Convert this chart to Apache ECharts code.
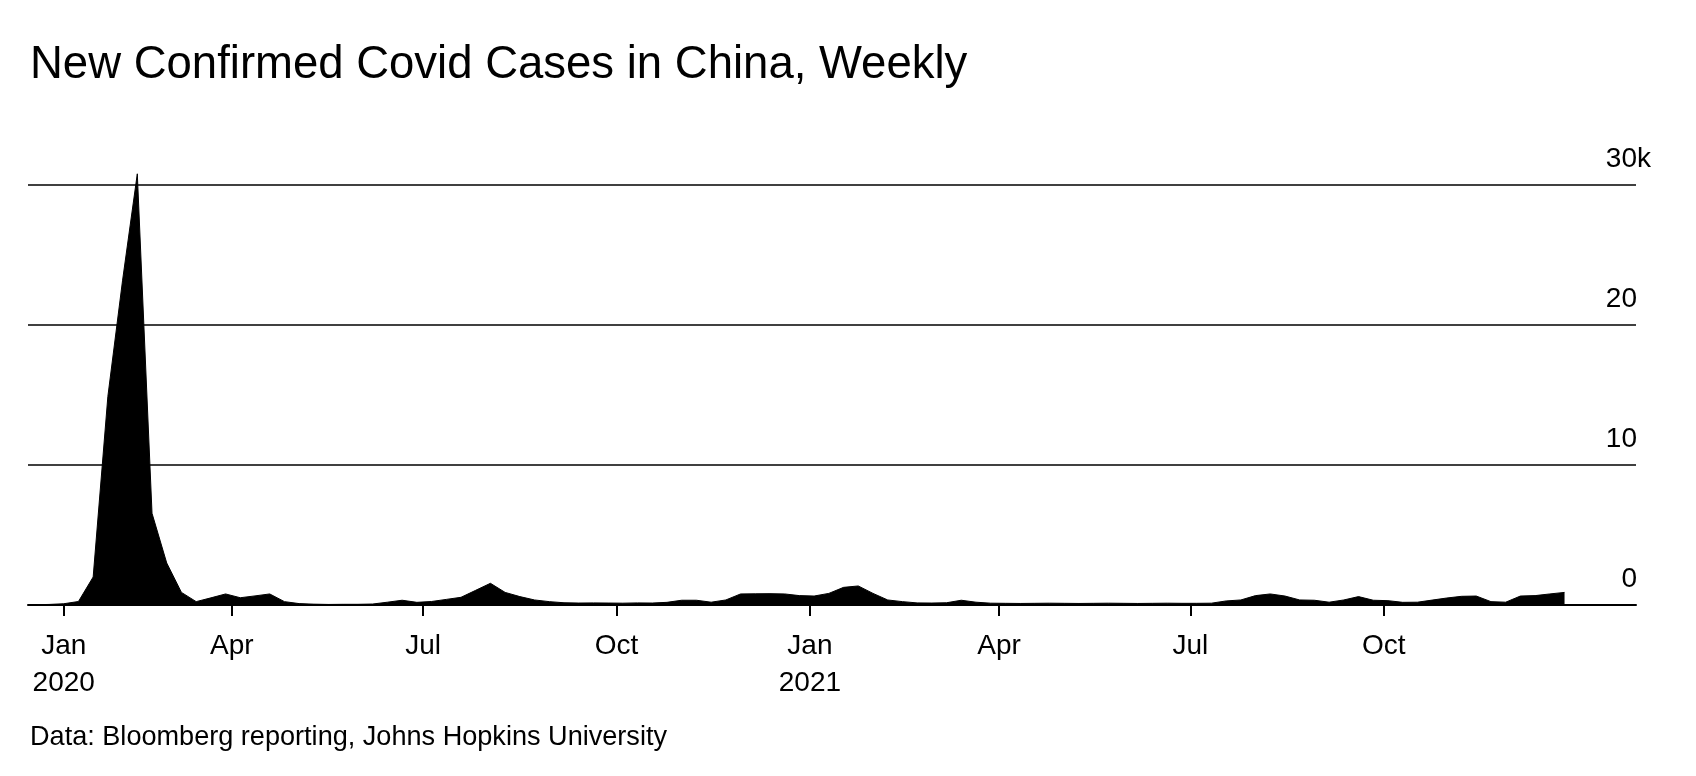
<!DOCTYPE html>
<html>
<head>
<meta charset="utf-8">
<script src="https://cdn.jsdelivr.net/npm/echarts@6/dist/echarts.min.js"></script>
<style>
html, body { margin: 0; padding: 0; background: #ffffff; }
#chart { width: 1696px; height: 776px; }
</style>
</head>
<body>
<div id="chart"></div>
<script>
const titleText = 'New Confirmed Covid Cases in China, Weekly';
const sourceText = 'Data: Bloomberg reporting, Johns Hopkins University';

// Weekly new confirmed cases, weeks starting 2019-12-29
const firstWeek = '2019-12-29';
const weeklyCases = [
  20, 40, 90, 250, 2000, 14900, 23200, 30800, 6550, 3000,
  900, 240, 510, 790, 520, 650, 790, 240, 100, 60,
  40, 50, 50, 70, 200, 340, 190, 250, 400, 550,
  1050, 1550, 900, 600, 360, 240, 160, 140, 150, 140,
  130, 150, 140, 190, 340, 340, 200, 360, 790, 800,
  810, 790, 670, 640, 830, 1260, 1360, 830, 360, 240,
  150, 140, 160, 340, 200, 130, 120, 110, 120, 130,
  120, 110, 120, 130, 120, 110, 120, 130, 120, 120,
  130, 290, 360, 670, 790, 640, 360, 340, 200, 360,
  600, 340, 310, 190, 200, 350, 500, 620, 640, 240,
  200, 640, 670, 790, 900
];

const yTicks = [0, 10000, 20000, 30000];
const xTickDates = ['2020-01-12', '2020-04-01', '2020-07-01', '2020-10-01',
                    '2021-01-01', '2021-04-01', '2021-07-01', '2021-10-01'];
const xTickLabels = ['Jan\n2020', 'Apr', 'Jul', 'Oct', 'Jan\n2021', 'Apr', 'Jul', 'Oct'];
const xMinDate = '2019-12-26';
const xMaxDate = '2022-01-29';

const FONT = '"Liberation Sans", Arial, sans-serif';
const DAY = 86400000;
function ts(s) { return Date.parse(s + 'T00:00:00Z'); }

const t0 = ts(firstWeek);
const seriesData = weeklyCases.map((v, i) => [t0 + i * 7 * DAY, v]);
const tickTs = xTickDates.map(ts);

const chart = echarts.init(document.getElementById('chart'), null, { renderer: 'canvas' });

chart.setOption({
  animation: false,
  backgroundColor: '#ffffff',
  title: [
    {
      text: titleText,
      left: 25,
      top: 37,
      textStyle: { fontFamily: FONT, fontSize: 45.5, fontWeight: 'normal', color: '#000' }
    },
    {
      text: sourceText,
      left: 25,
      top: 719,
      textStyle: { fontFamily: FONT, fontSize: 27.1, fontWeight: 'normal', color: '#000' }
    }
  ],
  grid: { left: 28, right: 60, top: 185, bottom: 171, containLabel: false },
  xAxis: {
    type: 'value',
    min: ts(xMinDate),
    max: ts(xMaxDate),
    axisLine: { show: true, onZero: false, lineStyle: { color: '#000', width: 2 } },
    axisTick: {
      show: true,
      customValues: tickTs,
      length: 11,
      lineStyle: { color: '#000', width: 2 }
    },
    axisLabel: {
      customValues: tickTs,
      margin: 23,
      fontFamily: FONT,
      fontSize: 28,
      lineHeight: 37,
      color: '#000',
      formatter: function (v) {
        let best = -1, bd = Infinity;
        tickTs.forEach((t, i) => { const d = Math.abs(t - v); if (d < bd) { bd = d; best = i; } });
        return bd < DAY ? xTickLabels[best] : '';
      }
    },
    splitLine: { show: false }
  },
  yAxis: {
    type: 'value',
    position: 'right',
    min: yTicks[0],
    max: yTicks[yTicks.length - 1],
    interval: yTicks[1] - yTicks[0],
    axisLine: { show: false },
    axisTick: { show: false },
    splitLine: { show: true, lineStyle: { color: '#000', width: 1.7 } },
    axisLabel: {
      inside: true,
      margin: -15,
      align: 'right',
      verticalAlign: 'bottom',
      padding: [0, 0, 12, 0],
      formatter: function (v) {
        const n = String(v / 1000);
        return v === yTicks[yTicks.length - 1] ? '{n|' + n + '}{k|k}' : '{n|' + n + '}{h|k}';
      },
      rich: {
        n: { fontFamily: FONT, fontSize: 28, color: '#000' },
        k: { fontFamily: FONT, fontSize: 28, color: '#000' },
        h: { fontFamily: FONT, fontSize: 28, color: 'rgba(0,0,0,0)' }
      }
    }
  },
  series: [
    {
      type: 'line',
      data: seriesData,
      symbol: 'none',
      clip: false,
      lineStyle: { color: '#000', width: 1 },
      areaStyle: { color: '#000', opacity: 1 },
      z: 3
    }
  ]
});
</script>
</body>
</html>
